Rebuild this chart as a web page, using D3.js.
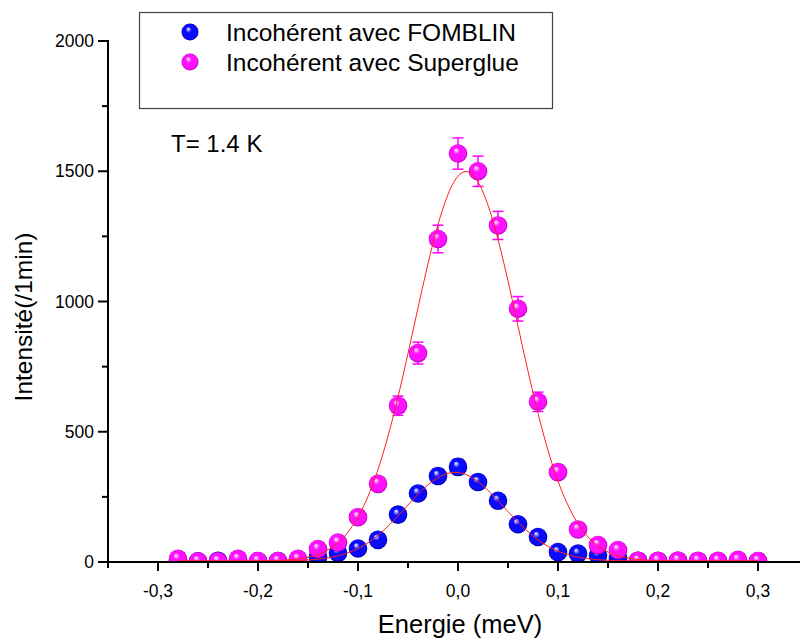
<!DOCTYPE html>
<html><head><meta charset="utf-8">
<script src="https://cdn.jsdelivr.net/npm/d3@7/dist/d3.min.js"></script>
<style>body{margin:0;background:#fff}svg{display:block}text{font-family:"Liberation Sans",Arial,sans-serif;fill:#000}</style>
</head><body><svg id="c" width="800" height="639"></svg>
<script>
// ---- data ----
const energies = [-0.28,-0.26,-0.24,-0.22,-0.20,-0.18,-0.16,-0.14,-0.12,-0.10,-0.08,-0.06,-0.04,-0.02,0.00,0.02,0.04,0.06,0.08,0.10,0.12,0.14,0.16,0.18,0.20,0.22,0.24,0.26,0.28,0.30];
const superglue = [12,3,3,12,4,4,12,50,75,172,300,600,802,1240,1568,1500,1292,972,615,345,125,65,46,5,5,6,5,5,8,4];
const superglueErr = [5,3,3,5,3,3,5,11,13,20,26,37,42,53,60,58,54,47,37,28,17,12,10,3,3,4,3,3,4,3];
const fomblin = [4,3,5,4,3,4,6,18,35,52,85,182,263,330,365,307,235,145,96,38,32,25,15,5,4,4,3,3,4,3];
const fomblinErr = [3,3,3,3,3,3,4,6,9,11,14,20,24,27,29,26,23,18,15,9,8,7,6,3,3,3,3,3,3,3];
const xTicks = [-0.3,-0.2,-0.1,0.0,0.1,0.2,0.3];
const yTicks = [0,500,1000,1500,2000];
// Gaussian fit parameters [offset, amplitude, centre, sigma]
const fitSuperglue = [4, 1495, 0.008, 0.0517];
const fitFomblin = [4, 340, -0.003, 0.049];
const seriesNames = ["Incohérent avec FOMBLIN","Incohérent avec Superglue"];

const svg = d3.select("#c");
const x = d3.scaleLinear().domain([-0.35,0.35]).range([108,808]);
const y = d3.scaleLinear().domain([0,2000]).range([562,41]);

// gradients
const defs = svg.append("defs");
function grad(id, base, dark){
  const g = defs.append("radialGradient").attr("id",id).attr("cx","50%").attr("cy","50%").attr("r","50%").attr("fx","38%").attr("fy","30%");
  g.append("stop").attr("offset","0%").attr("stop-color","#ffffff");
  g.append("stop").attr("offset","35%").attr("stop-color",base);
  g.append("stop").attr("offset","85%").attr("stop-color",base);
  g.append("stop").attr("offset","100%").attr("stop-color",dark);
}
grad("gBlue","#0a0aff","#00009a");
grad("gPink","#ff10ff","#b000b0");
defs.append("clipPath").attr("id","plot").append("rect").attr("x",108).attr("y",0).attr("width",700).attr("height",562);

// legend box
svg.append("rect").attr("x",139.5).attr("y",12.5).attr("width",413).attr("height",96).attr("fill","#fff").attr("stroke","#444").attr("stroke-width",1.2);
[["gBlue",32],["gPink",62]].forEach((d,i)=>{
  svg.append("circle").attr("cx",190).attr("cy",d[1]).attr("r",8.5).attr("fill",`url(#${d[0]})`);
  svg.append("text").attr("x",226).attr("y",d[1]+9).attr("font-size",24.5).text(seriesNames[i]);
});

svg.append("text").attr("x",171).attr("y",152).attr("font-size",24).text("T= 1.4 K");

const plot = svg.append("g").attr("clip-path","url(#plot)");
function errBars(vals, errs, color){
  const g = plot.append("g").attr("stroke",color).attr("stroke-width",1.5);
  energies.forEach((e,i)=>{
    const cx = x(e), y1 = y(vals[i]+errs[i]), y2 = y(vals[i]-errs[i]);
    g.append("line").attr("x1",cx).attr("x2",cx).attr("y1",y1).attr("y2",y2);
    g.append("line").attr("x1",cx-5.5).attr("x2",cx+5.5).attr("y1",y1).attr("y2",y1);
    g.append("line").attr("x1",cx-5.5).attr("x2",cx+5.5).attr("y1",y2).attr("y2",y2);
  });
}
function fitLine(p){
  const xs = d3.range(-0.28,0.3001,0.002);
  const line = d3.line().x(d=>x(d)).y(d=>y(p[0]+p[1]*Math.exp(-Math.pow(d-p[2],2)/(2*p[3]*p[3]))));
  plot.append("path").datum(xs).attr("d",line).attr("fill","none").attr("stroke","#ff2020").attr("stroke-width",1);
}
function points(vals, g){
  plot.append("g").selectAll("circle").data(energies).join("circle")
    .attr("cx",d=>x(d)).attr("cy",(d,i)=>y(vals[i])).attr("r",9.3).attr("fill",`url(#${g})`);
}
errBars(fomblin, fomblinErr, "#0000ff");
points(fomblin, "gBlue");
errBars(superglue, superglueErr, "#ff00ff");
points(superglue, "gPink");
fitLine(fitFomblin);
fitLine(fitSuperglue);

// axes
const xAxis = svg.append("g").attr("transform","translate(0,562)");
xAxis.append("line").attr("x1",107).attr("x2",800).attr("y1",0).attr("y2",0).attr("stroke","#000").attr("stroke-width",2);
d3.range(-0.35,0.351,0.05).forEach(t=>{
  const major = xTicks.some(v=>Math.abs(v-t)<1e-6);
  xAxis.append("line").attr("x1",x(t)).attr("x2",x(t)).attr("y1",0).attr("y2",major?9:6).attr("stroke","#000").attr("stroke-width",2);
});
xAxis.selectAll("text.tl").data(xTicks).join("text").attr("class","tl")
  .attr("x",d=>x(d)).attr("y",35).attr("text-anchor","middle").attr("font-size",17.5)
  .text(d=>d3.format(".1f")(d).replace(".",",").replace("−","-"));

const yAxis = svg.append("g").attr("transform","translate(108,0)");
yAxis.append("line").attr("x1",0).attr("x2",0).attr("y1",40).attr("y2",563).attr("stroke","#000").attr("stroke-width",2);
d3.range(0,2001,250).forEach(t=>{
  const major = t%500===0;
  yAxis.append("line").attr("x1",0).attr("x2",major?-10:-6).attr("y1",y(t)).attr("y2",y(t)).attr("stroke","#000").attr("stroke-width",2);
});
yAxis.selectAll("text.tl").data(yTicks).join("text").attr("class","tl")
  .attr("x",-14).attr("y",d=>y(d)+6).attr("text-anchor","end").attr("font-size",17.5).text(d=>d);

svg.append("text").attr("x",460).attr("y",633).attr("text-anchor","middle").attr("font-size",25.5).text("Energie (meV)");
svg.append("text").attr("transform","translate(32,317) rotate(-90)").attr("text-anchor","middle").attr("font-size",24.5).text("Intensité(/1min)");
</script></body></html>
